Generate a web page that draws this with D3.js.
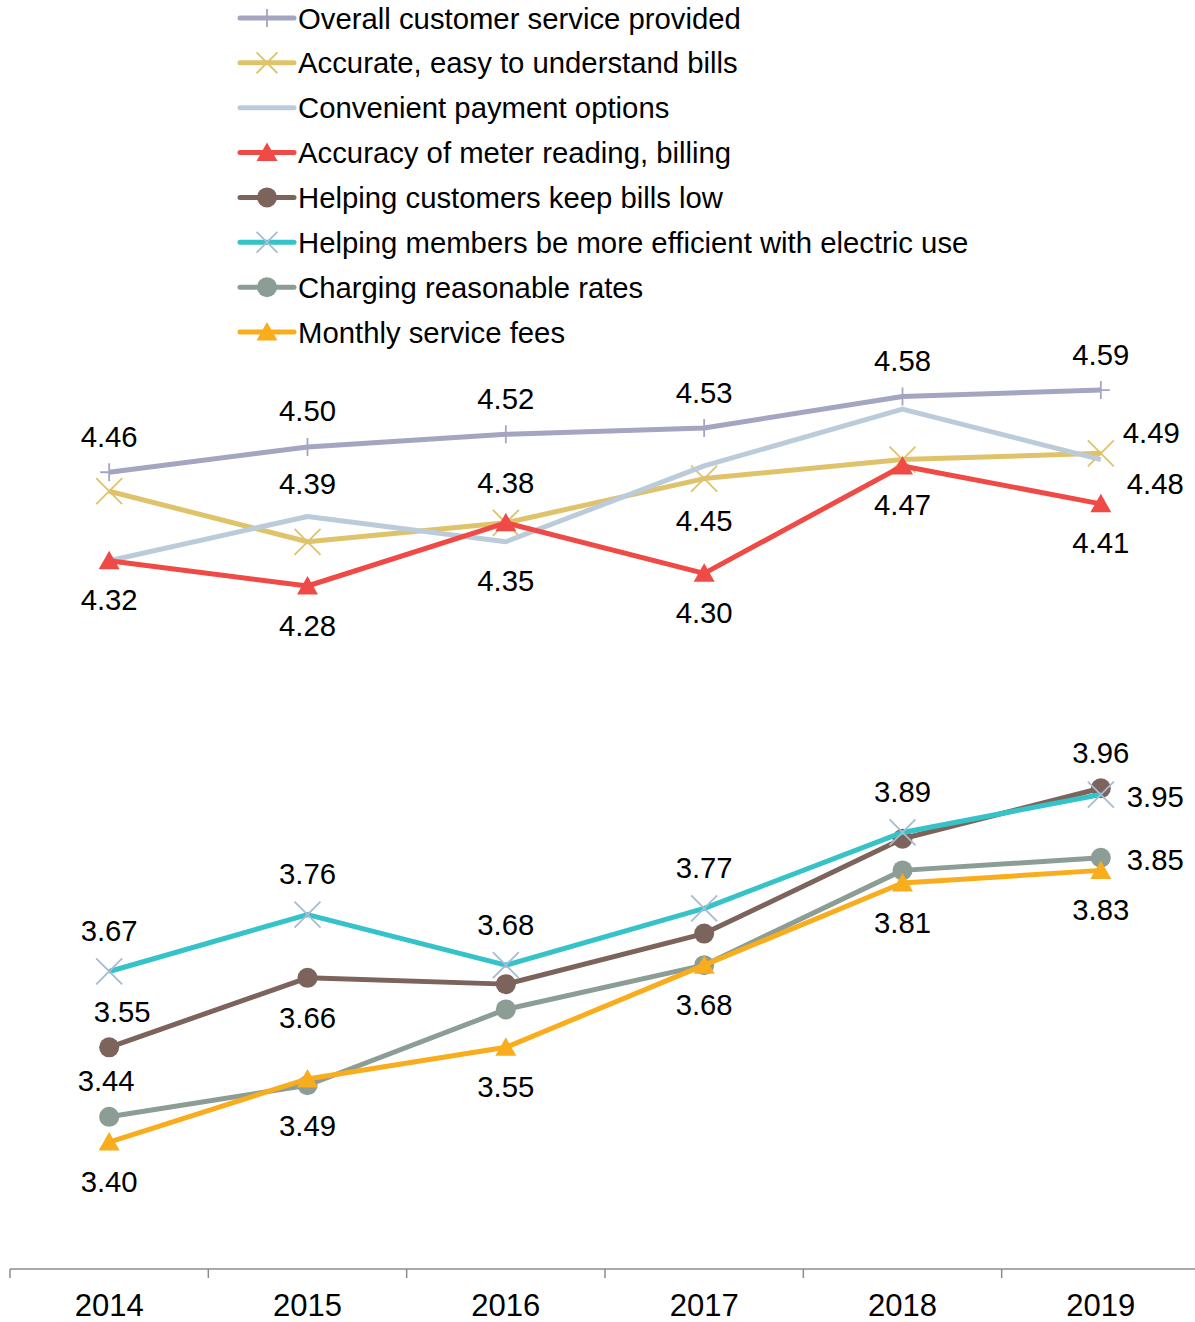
<!DOCTYPE html>
<html><head><meta charset="utf-8">
<script src="https://cdn.jsdelivr.net/npm/d3@7"></script>
<style>body{margin:0;background:#fff}svg{display:block;font-family:"Liberation Sans",Arial,sans-serif}</style>
</head><body><svg id="c" width="1195" height="1322"></svg>
<script>
const years = ["2014","2015","2016","2017","2018","2019"];
const seriesNames = [
  "Overall customer service provided",
  "Accurate, easy to understand bills",
  "Convenient payment options",
  "Accuracy of meter reading, billing",
  "Helping customers keep bills low",
  "Helping members be more efficient with electric use",
  "Charging reasonable rates",
  "Monthly service fees"
];
const overall     = [4.46, 4.50, 4.52, 4.53, 4.58, 4.59];
const accurate    = [4.43, 4.35, 4.38, 4.45, 4.48, 4.49];
const convenient  = [4.32, 4.39, 4.35, 4.47, 4.56, 4.48];
const meter       = [4.32, 4.28, 4.38, 4.30, 4.47, 4.41];
const billsLow    = [3.55, 3.66, 3.65, 3.73, 3.88, 3.96];
const efficient   = [3.67, 3.76, 3.68, 3.77, 3.89, 3.95];
const rates       = [3.44, 3.49, 3.61, 3.68, 3.83, 3.85];
const fees        = [3.40, 3.50, 3.55, 3.68, 3.81, 3.83];
const seriesValues = [overall, accurate, convenient, meter, billsLow, efficient, rates, fees];

// which data labels are shown: [series index, year index, placement, optional dx]
const labelSpecs = [
  [0,0,"a"],[0,1,"a"],[0,2,"a"],[0,3,"a"],[0,4,"a"],[0,5,"a"],
  [2,1,"a"],[2,2,"b"],[2,5,"rd"],
  [1,3,"b"],[1,5,"ru"],
  [3,0,"b"],[3,1,"b"],[3,2,"a"],[3,3,"b"],[3,4,"b"],[3,5,"b"],
  [5,0,"a"],[5,1,"a"],[5,2,"a"],[5,3,"a"],[5,4,"a"],[5,5,"r"],
  [4,0,"a",13],[4,1,"b"],[4,5,"a"],
  [6,0,"a",-3],[6,1,"b"],[6,5,"r"],
  [7,0,"b"],[7,2,"b"],[7,3,"b"],[7,4,"b"],[7,5,"b"]
];

const styles = [
  {color:"#a3a5c1", marker:"plus", mcolor:"#a3a5c1"},
  {color:"#dfc36b", marker:"x", mcolor:"#dfc36b"},
  {color:"#bccbda", marker:"none"},
  {color:"#ef4a45", marker:"tri", mcolor:"#ef4a45"},
  {color:"#7c635c", marker:"circle", mcolor:"#7c635c"},
  {color:"#35c3c9", marker:"x", mcolor:"#a7bbd3"},
  {color:"#8b9d95", marker:"circle", mcolor:"#8b9d95"},
  {color:"#f9ad1d", marker:"tri", mcolor:"#f9ad1d"}
];
const aboveOff = {plus:-36, x:-41, tri:-40, circle:-36, none:-33};
const belowOff = {plus:39, x:42, tri:39, circle:40, none:39};

const svg = d3.select("#c");
const x = d3.scaleBand().domain(years).range([10, 1200]).padding(0);
const y = d3.scaleLinear().domain([3.2, 5.0]).range([1268.5, 131]);
const cx = d => x(d) + x.bandwidth()/2;

// axis
const axisG = svg.append("g").attr("transform","translate(0,1269)");
axisG.append("line").attr("x1",10).attr("x2",1200).attr("stroke","#8c8c8c").attr("stroke-width",1.5);
const bounds = years.map(d=>x(d)).concat([1200]);
axisG.selectAll("line.t").data(bounds).join("line").attr("class","t")
  .attr("x1",d=>d).attr("x2",d=>d).attr("y1",0).attr("y2",9)
  .attr("stroke","#8c8c8c").attr("stroke-width",1.5);
axisG.selectAll("text").data(years).join("text")
  .attr("x",d=>cx(d)).attr("y",36).attr("text-anchor","middle")
  .attr("dominant-baseline","central").attr("font-size",31).attr("fill","#000").text(d=>d);

function drawMarker(g, type, color, px, py, scale=1){
  if(type==="circle"){
    g.append("circle").attr("cx",px).attr("cy",py).attr("r",10*scale).attr("fill",color);
  } else if(type==="tri"){
    const s=10*scale;
    g.append("path").attr("d",`M${px},${py-s}L${px+s*1.05},${py+s*0.85}L${px-s*1.05},${py+s*0.85}Z`).attr("fill",color);
  } else if(type==="x"){
    const s=13*scale;
    g.append("path").attr("d",`M${px-s},${py-s}L${px+s},${py+s}M${px-s},${py+s}L${px+s},${py-s}`)
      .attr("stroke",color).attr("stroke-width",1.8).attr("fill","none");
  } else if(type==="plus"){
    const s=9*scale;
    g.append("path").attr("d",`M${px-s},${py}L${px+s},${py}M${px},${py-s}L${px},${py+s}`)
      .attr("stroke",color).attr("stroke-width",1.8).attr("fill","none");
  }
}

const line = d3.line().x((d,i)=>cx(years[i])).y(d=>y(d));
const plot = svg.append("g");
seriesValues.forEach((vals,si)=>{
  const st = styles[si];
  const g = plot.append("g");
  g.append("path").datum(vals).attr("d",line).attr("fill","none")
    .attr("stroke",st.color).attr("stroke-width",5).attr("stroke-linejoin","round");
  if(st.marker!=="none") vals.forEach((v,i)=>drawMarker(g, st.marker, st.mcolor, cx(years[i]), y(v)));
});

// labels
const lg = svg.append("g");
labelSpecs.forEach(([si,yi,p,dx])=>{
  const v = seriesValues[si][yi];
  const m = styles[si].marker;
  let px = cx(years[yi]) + (dx||0), py = y(v), anchor="middle";
  if(p==="a") py += aboveOff[m];
  else if(p==="b") py += belowOff[m];
  else if(p==="r"){ px += 26; py += 2; anchor="start"; }
  else if(p==="ru"){ px += 22; py -= 21; anchor="start"; }
  else if(p==="rd"){ px += 26; py += 24; anchor="start"; }
  lg.append("text").attr("x",px).attr("y",py).attr("text-anchor",anchor)
    .attr("dominant-baseline","central").attr("font-size",29.3).attr("fill","#000").text(v.toFixed(2));
});

// legend
const leg = svg.append("g");
seriesNames.forEach((name,i)=>{
  const ly = 18 + i*44.86;
  const st = styles[i];
  leg.append("line").attr("x1",240).attr("x2",294).attr("y1",ly).attr("y2",ly)
    .attr("stroke",st.color).attr("stroke-width",5).attr("stroke-linecap","round");
  if(st.marker!=="none") drawMarker(leg, st.marker, st.mcolor, 267, ly, st.marker==="x"?0.8:1);
  leg.append("text").attr("x",298).attr("y",ly).attr("dominant-baseline","central")
    .attr("font-size",29.3).attr("fill","#000").text(name);
});
</script></body></html>
